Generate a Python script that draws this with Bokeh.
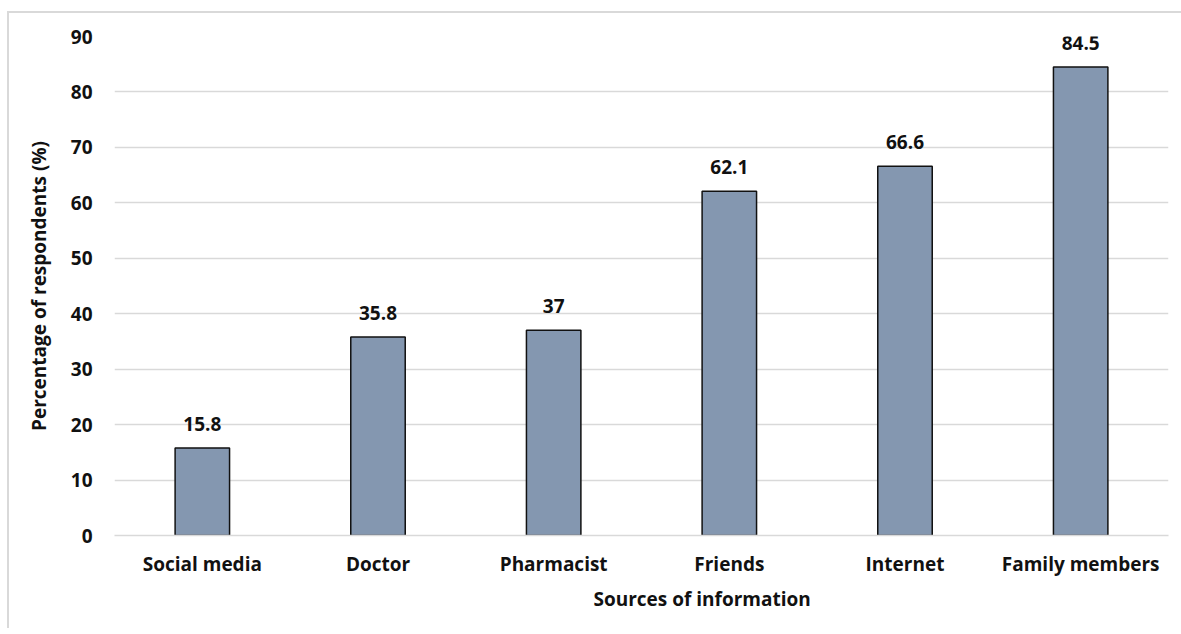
from bokeh.plotting import figure
from bokeh.models import ColumnDataSource, Title, FixedTicker
from bokeh.core.properties import value
from bokeh.embed import file_html
from bokeh.resources import INLINE

categories = ["Social media", "Doctor", "Pharmacist", "Friends", "Internet", "Family members"]
percentages = [15.8, 35.8, 37, 62.1, 66.6, 84.5]
value_labels = ["15.8", "35.8", "37", "62.1", "66.6", "84.5"]
y_ticks = [0, 10, 20, 30, 40, 50, 60, 70, 80, 90]

FONT = "Open Sans"
FS = "19px"
src = ColumnDataSource(dict(cat=categories, val=percentages, lab=value_labels))

edge = "linear-gradient(#d9d9d9, #d9d9d9)"
p = figure(x_range=categories, y_range=(0, 90), width=1174, height=617,
           output_backend="svg", toolbar_location=None,
           min_border_left=107, min_border_right=13, min_border_top=25, min_border_bottom=93,
           margin=(11, 0, 0, 7),
           styles={"background": f"{edge} left top / 2px 100% no-repeat, {edge} left top / 100% 2px no-repeat, #ffffff"})
p.border_fill_color = None

p.vbar(x="cat", top="val", width=0.31, source=src, fill_color="#8497B0",
       line_color="#111111", line_width=1.5)
p.text(x="cat", y="val", text="lab", source=src, y_offset=-17,
       text_align="center", text_baseline="bottom",
       text_font=value(FONT), text_font_style="bold", text_font_size=FS,
       text_color="#111111")

p.outline_line_color = None
p.xgrid.grid_line_color = None
p.ygrid.grid_line_color = "#d9d9d9"
p.ygrid.grid_line_width = 1.3
p.yaxis.ticker = FixedTicker(ticks=y_ticks)

for ax in (p.xaxis[0], p.yaxis[0]):
    ax.major_tick_line_color = None
    ax.minor_tick_line_color = None
    ax.major_label_text_font = FONT
    ax.major_label_text_font_style = "bold"
    ax.major_label_text_font_size = FS
    ax.major_label_text_color = "#111111"
    ax.axis_label_text_font = FONT
    ax.axis_label_text_font_style = "bold"
    ax.axis_label_text_font_size = FS
    ax.axis_label_text_color = "#111111"

p.yaxis.axis_line_color = None
p.xaxis.axis_line_color = "#d9d9d9"
p.xaxis.axis_line_width = 1.3
p.xaxis.major_label_standoff = 9
p.yaxis.major_label_standoff = 16
p.yaxis.axis_label = "Percentage of respondents (%)"
p.yaxis.axis_label_standoff = 16

p.add_layout(Title(text="Sources of information", align="left", offset=479,
                   text_font=FONT, text_font_style="bold", text_font_size=FS,
                   text_color="#111111", standoff=8), "below")

open("out.html", "w").write(file_html(p, INLINE))
